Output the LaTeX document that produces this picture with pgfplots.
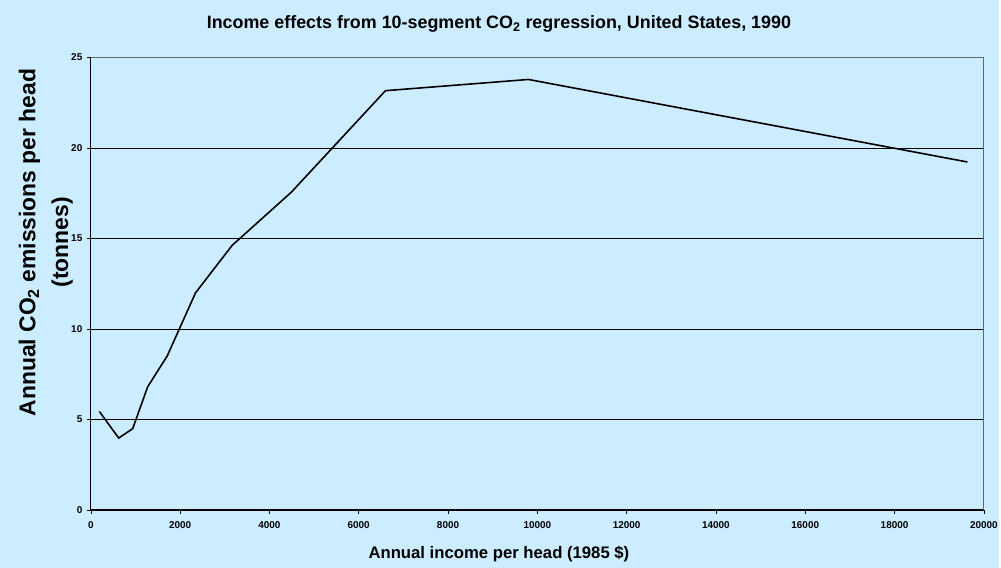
\documentclass[border=0pt]{standalone}
\usepackage{fontspec}
\setmainfont{Liberation Sans}
\usepackage{pgfplots}
\pgfplotsset{compat=1.18}
\definecolor{bg}{RGB}{204,236,255}
\begin{document}
\begin{tikzpicture}
\fill[bg] (-91bp,-58bp) rectangle (910bp,511bp);
\begin{axis}[
  at={(0,0)}, anchor=south west,
  scale only axis, width=895bp, height=453.3bp,
  xmin=0, xmax=20000, ymin=0, ymax=25,
  xtick={0,2000,...,20000}, ytick={0,5,...,25},
  scaled x ticks=false,
  /pgf/number format/1000 sep={},
  /pgf/number format/assume math mode=true,
  ymajorgrids, grid style={black, line width=0.6pt},
  axis line style={draw=none},
  tick align=outside, xtick pos=bottom, ytick pos=left,
  major tick length=4bp,
  tick style={black, line width=0.6pt},
  ticklabel style={font=\bfseries\fontsize{10}{12}\selectfont},
  xticklabel style={yshift=-4bp},
  yticklabel style={xshift=-1bp},
  clip=false,
]
\addplot[black, line width=1.6pt] coordinates {
  (192,5.44) (625,3.97) (938,4.49) (1273,6.8) (1712,8.51)
  (2346,12.0) (3165,14.62) (4491,17.56) (6599,23.17)
  (9801,23.79) (19631,19.23)
};
\draw[black, line width=1.2pt] (rel axis cs:0,1) -- (rel axis cs:0,0) -- (rel axis cs:1,0);
\draw[gray!80!black, line width=0.9pt] (rel axis cs:0,1) -- (rel axis cs:1,1) -- (rel axis cs:1,0);
\end{axis}
\node[font=\bfseries\fontsize{18}{21}\selectfont] at (409bp,487bp) {Income effects from 10-segment CO\textsubscript{2} regression, United States, 1990};
\node[font=\bfseries\fontsize{16.8}{20}\selectfont] at (409bp,-44bp) {Annual income per head (1985 \$)};
\node[font=\bfseries\fontsize{23}{33}\selectfont, rotate=90, align=center] at (-45bp,268bp) {Annual CO\textsubscript{2} emissions per head\\(tonnes)};
\end{tikzpicture}
\end{document}
